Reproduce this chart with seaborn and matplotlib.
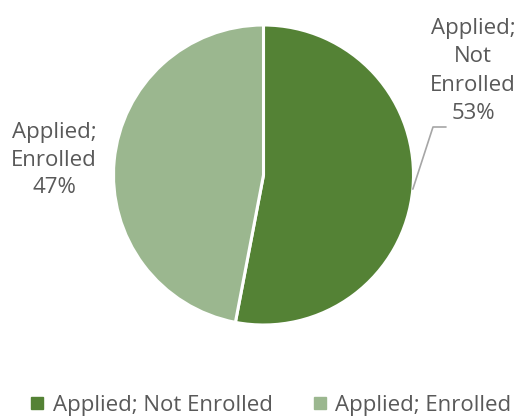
import numpy as np
import matplotlib
matplotlib.use("Agg")
import matplotlib.pyplot as plt
import seaborn as sns
from matplotlib.lines import Line2D

categories = ["Applied; Not Enrolled", "Applied; Enrolled"]
values = [53, 47]
label_texts = ["Applied;\nNot\nEnrolled\n53%", "Applied;\nEnrolled\n47%"]
colors = ["#548235", "#9bb78f"]

sns.set_theme(style="white")
plt.rcParams['font.family'] = ['Open Sans', 'DejaVu Sans']

W, H = 519, 419
fig = plt.figure(figsize=(W / 100, H / 100), dpi=100)
cx, cy, r = 263.5, 175.0, 150.0
ax = fig.add_axes([(cx - r) / W, (H - cy - r) / H, 2 * r / W, 2 * r / H])
ax.pie(values, colors=colors, startangle=90, counterclock=False, radius=1.0,
       wedgeprops=dict(edgecolor="white", linewidth=2.2))
ax.set_xlim(-1, 1)
ax.set_ylim(-1, 1)
ax.set_aspect("auto")
ax.axis("off")

txtc = "#595959"
fs = 16
frac = np.array(values) / sum(values)
mid1 = np.deg2rad(90 - frac[0] * 360 / 2)
p0 = (np.cos(mid1) * 1.0, np.sin(mid1) * 1.0)

def px(x, y):
    return ((x - cx) / r, (cy - y) / r)

elbow = px(433, 127)
end = px(446, 127)
ax.plot([p0[0], elbow[0], end[0]], [p0[1], elbow[1], end[1]], color="#a6a6a6",
        lw=1.2, clip_on=False)
lx, ly = px(473, 71)
ax.text(lx, ly, label_texts[0], ha="center", va="center", fontsize=fs,
        color=txtc, linespacing=1.45, clip_on=False)
lx2, ly2 = px(54, 160)
ax.text(lx2, ly2, label_texts[1], ha="center", va="center", fontsize=fs,
        color=txtc, linespacing=1.38, clip_on=False)

handles = [Line2D([0], [0], marker="s", linestyle="none", markersize=8,
                  markerfacecolor=c, markeredgecolor=c) for c in colors]
fig.legend(handles, categories, loc="center", bbox_to_anchor=(0.520, 1 - 405 / H),
           ncol=2, frameon=False, fontsize=fs, labelcolor=txtc,
           handletextpad=0.3, columnspacing=1.72, handlelength=0.8)

fig.savefig("out.png", dpi=100, facecolor="white")
